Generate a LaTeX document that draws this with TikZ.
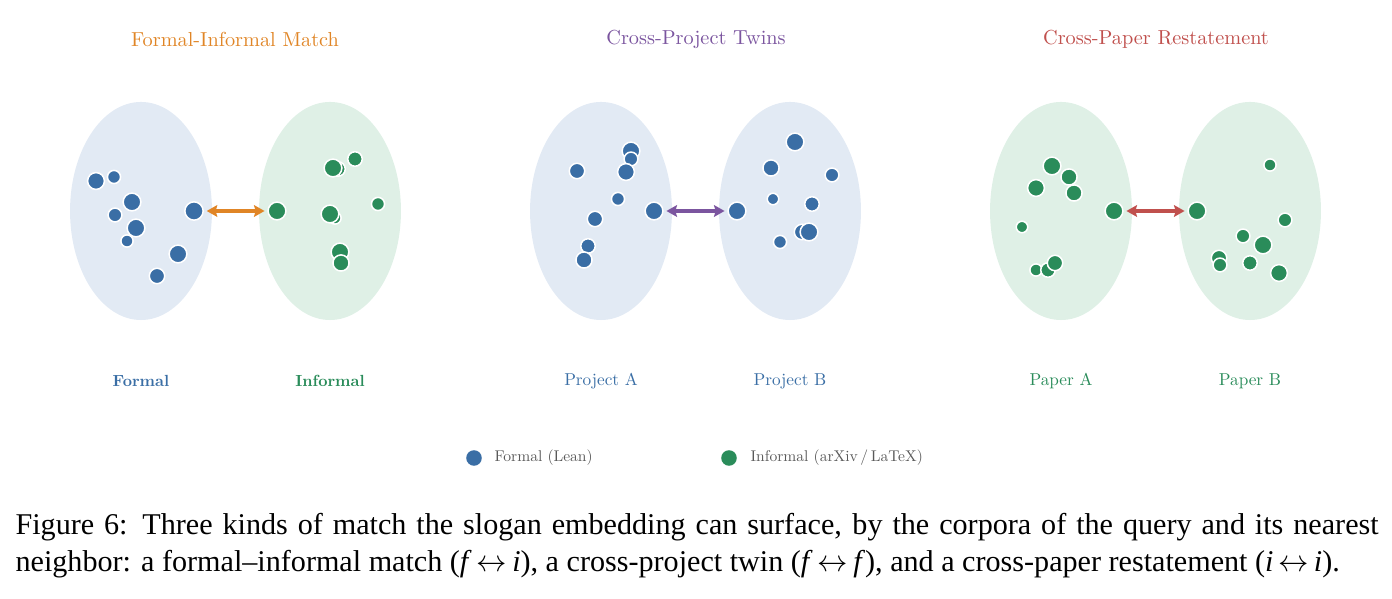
\documentclass[tikz,border=0pt]{standalone}
\usepackage{amsmath}
\usepackage{fontspec}
\usepackage{tikz}
\usetikzlibrary{arrows.meta,shapes.geometric}
\newfontfamily\capfont{Liberation Serif}
\newfontfamily\cmten[Extension=.otf,BoldFont=lmroman10-bold]{lmroman10-regular}

\definecolor{fblue}{HTML}{3A6EA5}
\definecolor{igreen}{HTML}{2A8C5A}
\definecolor{fpale}{HTML}{E2EAF4}
\definecolor{ipale}{HTML}{DFF0E6}
\definecolor{morange}{HTML}{E08526}
\definecolor{tpurple}{HTML}{7B559F}
\definecolor{pred}{HTML}{C0504D}

\begin{document}
\begin{tikzpicture}[x=0.36pt, y=-0.36pt,
    blob/.style={ellipse, inner sep=0pt, minimum width=51.1pt, minimum height=78.5pt},
    fdot/.style={circle, inner sep=0pt, fill=fblue, draw=white, line width=0.55pt},
    idot/.style={circle, inner sep=0pt, fill=igreen, draw=white, line width=0.55pt},
    arr/.style={{Stealth[length=3.8pt,width=4.2pt,inset=0.6pt]}-{Stealth[length=3.8pt,width=4.2pt,inset=0.6pt]}, line width=1.3pt, shorten <=1pt, shorten >=1pt},
    ttl/.style={font=\cmten\fontsize{7.3}{8}\selectfont},
    lbl/.style={font=\cmten\fontsize{6.2}{7}\selectfont},
    blbl/.style={font=\cmten\fontsize{5.8}{7}\selectfont\bfseries},
    leg/.style={font=\cmten\fontsize{5.6}{6}\selectfont, text=black!65, anchor=west, inner sep=0pt}
]
\useasboundingbox (0,0) rectangle (1392,599);

% corpora
\node[blob, fill=fpale] (formal)   at (141,211) {};
\node[blob, fill=ipale] (informal) at (330,211) {};
\node[blob, fill=fpale] (proja)    at (601,211) {};
\node[blob, fill=fpale] (projb)    at (790,211) {};
\node[blob, fill=ipale] (papera)   at (1061,211) {};
\node[blob, fill=ipale] (paperb)   at (1250,211) {};

% titles
\node[ttl, text=morange] (t1) at (235,39)  {Formal-Informal Match};
\node[ttl, text=tpurple] (t2) at (696,39)  {Cross-Project Twins};
\node[ttl, text=pred]    (t3) at (1156,39) {Cross-Paper Restatement};

% scattered embeddings
\foreach \x/\y/\r [count=\k] in {96/181/7.3, 114/177/5.7, 132/202/7.7, 115/215/6, 136/228/7.7,
    127/241/5.3, 178/254/7.7, 157/276/6.7}
  \node[fdot, minimum size=\r*0.83pt] (fa\k) at (\x,\y) {};
\foreach \x/\y/\r [count=\k] in {338/169/6.3, 333/168/7.7, 355/159/6.3, 378/204/5.7, 335/218/5.3,
    330/214/7.7, 340/252/7.7, 341/263/7}
  \node[idot, minimum size=\r*0.83pt] (ia\k) at (\x,\y) {};
\foreach \x/\y/\r [count=\k] in {577/171/6.7, 631/151/7.7, 631/159/6, 626/172/7.3, 618/199/5.7,
    595/219/6.7, 588/246/6.3, 584/260/7}
  \node[fdot, minimum size=\r*0.83pt] (pa\k) at (\x,\y) {};
\foreach \x/\y/\r [count=\k] in {795/142/7.7, 771/168/7, 832/175/6, 773/199/5, 812/204/6.3,
    802/232/6.7, 809/232/7.7, 780/242/5.7}
  \node[fdot, minimum size=\r*0.83pt] (pb\k) at (\x,\y) {};
\foreach \x/\y/\r [count=\k] in {1052/166/7.7, 1069/177/7, 1036/188/7.3, 1074/193/7, 1022/227/5,
    1036/270/5.3, 1048/270/6.3, 1055/263/6.7}
  \node[idot, minimum size=\r*0.83pt] (ra\k) at (\x,\y) {};
\foreach \x/\y/\r [count=\k] in {1270/165/5.3, 1285/220/6, 1243/236/6, 1263/245/7.7, 1219/258/6.7,
    1220/265/6, 1250/263/6.3, 1279/273/7.3}
  \node[idot, minimum size=\r*0.83pt] (rb\k) at (\x,\y) {};

% query / neighbour pairs
\node[fdot, minimum size=6.6pt] (q1) at (194,211)  {};
\node[idot, minimum size=6.4pt] (n1) at (277,211)  {};
\node[fdot, minimum size=6.4pt] (q2) at (654,211)  {};
\node[fdot, minimum size=6.4pt] (n2) at (737,211)  {};
\node[idot, minimum size=6.4pt] (q3) at (1114,211) {};
\node[idot, minimum size=6.4pt] (n3) at (1197,211) {};

\draw[arr, morange] (q1) -- (n1);
\draw[arr, tpurple] (q2) -- (n2);
\draw[arr, pred]    (q3) -- (n3);

% corpus labels
\node[blbl, text=fblue]  (l1) at (141,381)  {Formal};
\node[blbl, text=igreen] (l2) at (330,381)  {Informal};
\node[lbl, text=fblue]   (l3) at (601,381)  {Project A};
\node[lbl, text=fblue]   (l4) at (790,381)  {Project B};
\node[lbl, text=igreen]  (l5) at (1061,381) {Paper A};
\node[lbl, text=igreen]  (l6) at (1250,381) {Paper B};

% legend
\node[fdot, draw=none, minimum size=5.6pt] (kf) at (474,458) {};
\node[leg] (kft) at (494,458) {Formal (Lean)};
\node[idot, draw=none, minimum size=5.6pt] (ki) at (729,458) {};
\node[leg] (kit) at (750,458) {Informal (arXiv\,/\,LaTeX)};

% caption
\node[anchor=north west, inner sep=0pt, text width=490.7pt, align=justify,
      font=\capfont\fontsize{10.85}{13.3}\selectfont] (cap) at (15,513)
  {Figure 6: Three kinds of match the slogan embedding can surface, by the corpora of the query and its nearest\linebreak
   neighbor: a formal–informal match (\textit{f}\,$\leftrightarrow$\,\textit{i}), a cross-project twin (\textit{f}\,$\leftrightarrow$\,\textit{f}), and a cross-paper restatement (\textit{i}\,$\leftrightarrow$\,\textit{i}).};
\end{tikzpicture}
\end{document}
